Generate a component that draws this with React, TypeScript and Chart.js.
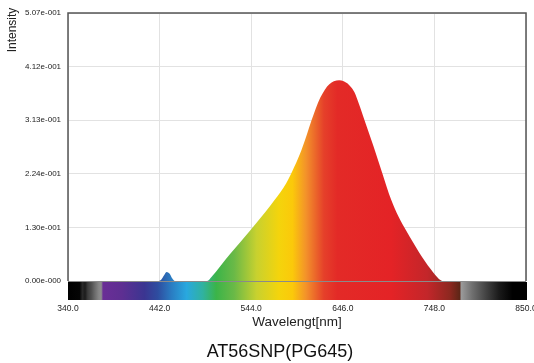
import React, { useEffect, useRef } from "react";
import { Chart, registerables } from "chart.js";

Chart.register(...registerables);

const wavelengths = [340, 440, 444, 447, 450, 453, 456, 459, 495, 500, 520, 544, 560, 570, 583, 592, 600, 606, 611, 616, 621, 626, 631, 636, 642, 647, 651, 655, 659, 664, 670, 680, 690, 700, 708, 717, 731, 744, 753, 758, 850];
const intensities = [0, 0, 0.003, 0.011, 0.017, 0.014, 0.005, 0, 0, 0.008, 0.05, 0.098, 0.131, 0.153, 0.185, 0.216, 0.248, 0.277, 0.303, 0.327, 0.347, 0.362, 0.372, 0.378, 0.38, 0.378, 0.374, 0.367, 0.357, 0.335, 0.305, 0.256, 0.204, 0.153, 0.122, 0.094, 0.054, 0.022, 0.004, 0, 0];

const xTickValues = [340, 442, 544, 646, 748, 850];
const yTickLabels = ["0.00e-000", "1.30e-001", "2.24e-001", "3.13e-001", "4.12e-001", "5.07e-001"];
const yMax = 0.507;

const spectrumNm = [340, 353, 356, 359, 362, 366, 370, 374, 377, 379, 400, 425, 440, 455, 472, 490, 505, 525, 550, 575, 590, 605, 625, 640, 700, 740, 765, 776, 778, 790, 805, 820, 835, 850];
const spectrumColors = ["#000000", "#050505", "#2a2a2a", "#1c1c1c", "#3c3c3c", "#505050", "#6c6c6c", "#858585", "#8e8e8e", "#6a2e96", "#5e2f92", "#3b3591", "#2e4da0", "#2a7cc2", "#29a8df", "#30b2a0", "#3bb449", "#6ab947", "#c8d12f", "#f4d40c", "#fbc90a", "#f3922a", "#e5402a", "#e32a27", "#e42326", "#c3262a", "#8e2820", "#5e2617", "#9a9a9a", "#707070", "#444444", "#1a1a1a", "#000000", "#000000"];

const chartTitle = "AT56SNP(PG645)";
const xTitle = "Wavelengt[nm]";
const yTitle = "Intensity";

function makeGradient(chart: any) {
  const xs = chart.scales.x;
  const x0 = xs.getPixelForValue(340);
  const x1 = xs.getPixelForValue(850);
  const g = chart.ctx.createLinearGradient(x0, 0, x1, 0);
  spectrumNm.forEach((nm, i) => g.addColorStop((nm - 340) / 510, spectrumColors[i]));
  return g;
}

const decorPlugin = {
  id: "decor",
  afterDatasetsDraw(chart: any) {
    const { ctx, chartArea } = chart;
    const { left, right, top, bottom } = chartArea;
    ctx.save();
    ctx.strokeStyle = "#8a8a8a";
    ctx.lineWidth = 1;
    ctx.beginPath();
    ctx.moveTo(left, bottom + 0.5);
    ctx.lineTo(right, bottom + 0.5);
    ctx.stroke();
    ctx.strokeStyle = "#555555";
    ctx.lineWidth = 1.5;
    ctx.beginPath();
    ctx.moveTo(left, bottom);
    ctx.lineTo(left, top);
    ctx.lineTo(right, top);
    ctx.lineTo(right, bottom);
    ctx.stroke();
    ctx.restore();
  },
  afterDraw(chart: any) {
    const { ctx, chartArea } = chart;
    const xs = chart.scales.x;
    ctx.save();
    const x0 = xs.getPixelForValue(340);
    const x1 = xs.getPixelForValue(850) + 1;
    ctx.fillStyle = makeGradient(chart);
    ctx.fillRect(x0, chartArea.bottom + 1, x1 - x0, 18);
    ctx.fillStyle = "#222";
    ctx.font = '12px "Liberation Sans"';
    ctx.textAlign = "center";
    ctx.textBaseline = "middle";
    ctx.translate(13, 30);
    ctx.rotate(-Math.PI / 2);
    ctx.fillText(yTitle, 0, 0);
    ctx.restore();
    ctx.save();
    ctx.fillStyle = "#111";
    ctx.font = '18px "Liberation Sans"';
    ctx.textAlign = "center";
    ctx.textBaseline = "alphabetic";
    ctx.fillText(chartTitle, 280, 357);
    ctx.restore();
  },
};

export default function App() {
  const ref = useRef<HTMLCanvasElement>(null);
  useEffect(() => {
    if (!ref.current) return;
    const chart = new Chart(ref.current, {
      type: "line",
      data: {
        datasets: [
          {
            data: wavelengths.map((w, i) => ({ x: w, y: intensities[i] })),
            fill: "origin",
            borderWidth: 0,
            borderColor: "rgba(0,0,0,0)",
            pointRadius: 0,
            cubicInterpolationMode: "monotone",
            backgroundColor: (c: any) => (c.chart.chartArea ? makeGradient(c.chart) : "#e32a27"),
          },
        ],
      },
      options: {
        responsive: false,
        animation: false,
        layout: { padding: { left: 25, top: 13, right: 8, bottom: 0 } },
        plugins: { legend: { display: false }, tooltip: { enabled: false }, title: { display: false } },
        scales: {
          x: {
            type: "linear",
            min: 340,
            max: 850,
            afterBuildTicks: (s: any) => {
              s.ticks = xTickValues.map((v) => ({ value: v }));
            },
            afterFit: (s: any) => {
              s.height = 82;
              s.paddingLeft = 0;
              s.paddingRight = 0;
            },
            ticks: {
              callback: (v: any) => Number(v).toFixed(1),
              font: { family: "Liberation Sans", size: 8.5 },
              color: "#222",
              padding: 23,
              maxRotation: 0,
              autoSkip: false,
            },
            grid: { color: "#e2e2e2", drawTicks: false, lineWidth: 1 },
            border: { display: false },
            title: {
              display: true,
              text: xTitle,
              font: { family: "Liberation Sans", size: 13.5 },
              color: "#222",
              padding: { top: 0, bottom: 33 },
            },
          },
          y: {
            min: 0,
            max: yMax,
            afterBuildTicks: (s: any) => {
              s.ticks = yTickLabels.map((_, i) => ({ value: (i * yMax) / 5 }));
            },
            afterFit: (s: any) => {
              s.width = 43;
              s.paddingTop = 0;
              s.paddingBottom = 0;
            },
            ticks: {
              callback: (_v: any, i: number) => yTickLabels[i],
              crossAlign: "far",
              font: { family: "Liberation Sans", size: 8 },
              color: "#222",
              padding: 4,
            },
            grid: { color: "#e2e2e2", drawTicks: false, lineWidth: 1 },
            border: { display: false },
          },
        },
      },
      plugins: [decorPlugin],
    } as any);
    return () => chart.destroy();
  }, []);
  return (
    <div style={{ position: "fixed", left: 0, top: 0, width: 534, height: 363, background: "#fff" }}>
      <canvas ref={ref} width={534} height={363} style={{ display: "block" }} />
    </div>
  );
}
